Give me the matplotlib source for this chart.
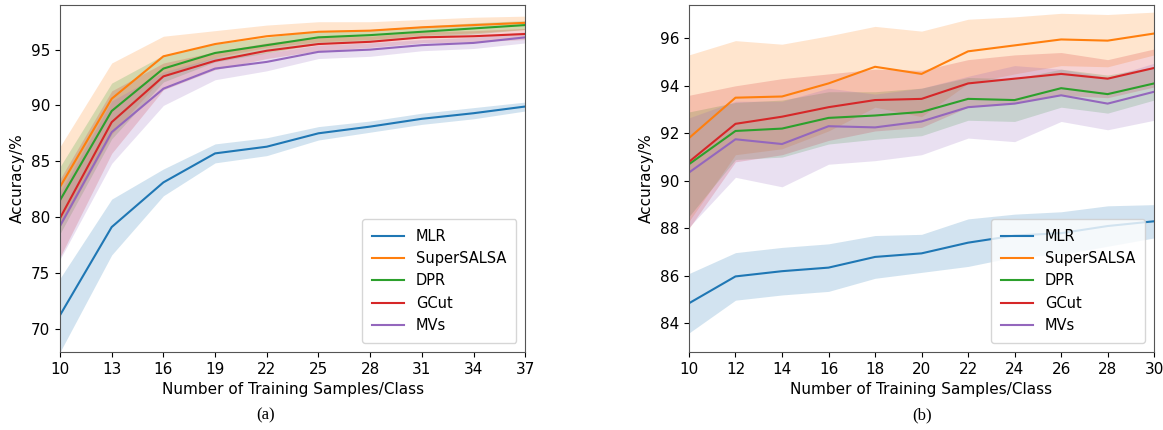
import numpy as np
import matplotlib.pyplot as plt

methods = ["MLR", "SuperSALSA", "DPR", "GCut", "MVs"]
colors = ["#1f77b4", "#ff7f0e", "#2ca02c", "#d62728", "#9467bd"]

# panel (a)
x_a = [10, 13, 16, 19, 22, 25, 28, 31, 34, 37]
mean_a = {
    "MLR":        [71.2, 79.1, 83.1, 85.7, 86.3, 87.5, 88.1, 88.8, 89.3, 89.9],
    "SuperSALSA": [82.7, 90.6, 94.4, 95.5, 96.2, 96.6, 96.7, 97.0, 97.2, 97.4],
    "DPR":        [81.5, 89.5, 93.3, 94.7, 95.4, 96.1, 96.3, 96.6, 96.9, 97.2],
    "GCut":       [79.9, 88.5, 92.6, 94.0, 94.9, 95.5, 95.7, 96.1, 96.2, 96.4],
    "MVs":        [79.2, 87.6, 91.5, 93.3, 93.9, 94.8, 95.0, 95.4, 95.6, 96.1],
}
std_a = {
    "MLR":        [3.3, 2.5, 1.2, 0.85, 0.8, 0.6, 0.5, 0.5, 0.5, 0.4],
    "SuperSALSA": [3.6, 3.2, 1.8, 1.2, 1.0, 0.9, 0.8, 0.7, 0.7, 0.6],
    "DPR":        [3.0, 2.5, 1.2, 0.8, 0.7, 0.6, 0.5, 0.5, 0.5, 0.4],
    "GCut":       [3.5, 2.8, 1.2, 0.8, 0.7, 0.6, 0.5, 0.5, 0.5, 0.5],
    "MVs":        [3.0, 2.8, 1.5, 1.0, 0.8, 0.6, 0.6, 0.5, 0.5, 0.5],
}

# panel (b)
x_b = [10, 12, 14, 16, 18, 20, 22, 24, 26, 28, 30]
mean_b = {
    "MLR":        [84.85, 85.98, 86.2, 86.35, 86.8, 86.95, 87.4, 87.7, 87.8, 88.1, 88.3],
    "SuperSALSA": [91.8, 93.5, 93.55, 94.1, 94.8, 94.5, 95.45, 95.7, 95.95, 95.9, 96.2],
    "DPR":        [90.7, 92.1, 92.2, 92.65, 92.75, 92.9, 93.45, 93.4, 93.9, 93.65, 94.1],
    "GCut":       [90.8, 92.4, 92.7, 93.1, 93.4, 93.45, 94.1, 94.3, 94.5, 94.3, 94.75],
    "MVs":        [90.35, 91.75, 91.55, 92.3, 92.25, 92.5, 93.1, 93.25, 93.6, 93.25, 93.75],
}
std_b = {
    "MLR":        [1.25, 1.0, 1.0, 1.0, 0.9, 0.8, 1.0, 0.9, 0.9, 0.85, 0.7],
    "SuperSALSA": [3.5, 2.4, 2.2, 2.0, 1.7, 1.8, 1.35, 1.2, 1.1, 1.1, 0.9],
    "DPR":        [2.2, 1.2, 1.2, 1.1, 1.0, 1.0, 0.9, 0.9, 0.8, 0.8, 0.7],
    "GCut":       [2.8, 1.6, 1.6, 1.4, 1.3, 1.2, 1.0, 1.0, 0.9, 0.8, 0.8],
    "MVs":        [2.3, 1.6, 1.8, 1.6, 1.4, 1.4, 1.3, 1.6, 1.1, 1.1, 1.2],
}

fig = plt.figure(figsize=(11.63, 4.30), dpi=100)
ax_a = fig.add_axes([0.0516, 0.1814, 0.400, 0.807])
ax_b = fig.add_axes([0.5924, 0.1814, 0.400, 0.807])


def draw(ax, x, means, stds):
    x = np.array(x)
    for name, c in zip(methods, colors):
        m = np.array(means[name])
        s = np.array(stds[name])
        ax.fill_between(x, m - s, m + s, color=c, alpha=0.2, linewidth=0)
        ax.plot(x, m, color=c, lw=1.5, label=name)
    ax.set_xlabel("Number of Training Samples/Class", fontsize=11)
    ax.set_ylabel("Accuracy/%", fontsize=11)
    ax.tick_params(labelsize=11)
    for sp in ax.spines.values():
        sp.set_color("#555555")
    ax.legend(loc="lower right", fontsize=10.5, borderpad=0.7, labelspacing=0.5,
              handlelength=2.2, handletextpad=0.8, borderaxespad=0.6)


draw(ax_a, x_a, mean_a, std_a)
ax_a.set_xlim(10, 37)
ax_a.set_ylim(67.9, 99.0)
ax_a.set_xticks(x_a)
ax_a.set_yticks([70, 75, 80, 85, 90, 95])

draw(ax_b, x_b, mean_b, std_b)
ax_b.set_xlim(10, 30)
ax_b.set_ylim(82.8, 97.4)
ax_b.set_xticks(x_b)
ax_b.set_yticks([84, 86, 88, 90, 92, 94, 96])

fig.text(0.228, 0.025, "(a)", family="Liberation Serif", fontsize=12, ha="center")
fig.text(0.793, 0.025, "(b)", family="Liberation Serif", fontsize=12, ha="center")

fig.savefig("out.png", dpi=100)
